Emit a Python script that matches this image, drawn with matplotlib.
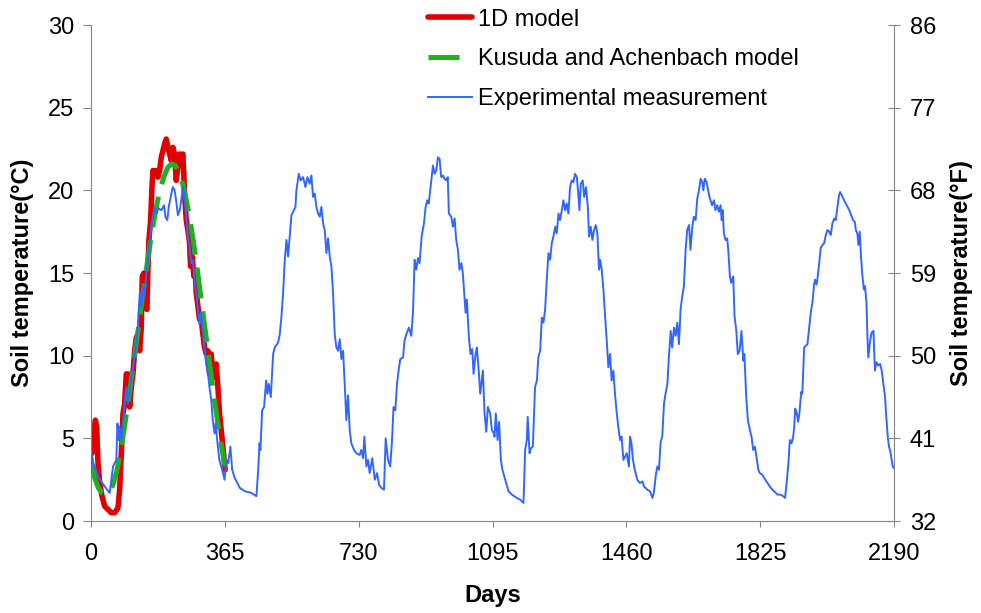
import numpy as np
import matplotlib
matplotlib.use("Agg")
import matplotlib.pyplot as plt

plt.rcParams['font.family'] = ['Liberation Sans', 'DejaVu Sans']
plt.rcParams['font.size'] = 17

exp_days = [0, 3, 6, 10, 19, 37, 51, 60, 69, 72, 75, 78, 83, 90, 96, 101, 108, 114, 119, 126,
            133, 137, 142, 146, 151, 155, 160, 164, 169, 173, 178, 184, 192, 199, 203, 208, 212,
            219, 223, 228, 232, 237, 242, 246, 251, 255, 260, 264, 269, 273, 278, 282, 287, 291,
            296, 300, 305, 310, 314, 319, 323, 328, 332, 337, 340, 344, 350, 360, 364,
            369.5, 374, 380, 385, 392, 406, 419.5, 437.6, 451, 456, 459.4, 462, 466.7, 472, 477.6,
            481.2, 484.9, 490.3, 496.7, 501.2, 510.3, 514.8, 519.4, 523.9, 528.4, 533, 537.5, 542,
            546.6, 551.1, 557.5, 560.2, 566.6, 572, 578.4, 584.7, 590.2, 596.5, 601, 605.6, 610.2,
            614.7, 619.2, 623.8, 628.3, 632.9, 637.4, 642, 646.5, 651, 655.6, 660.1, 664.6, 669.2,
            673.7, 678.3, 682.8, 687.3, 691.9, 696.4, 701, 705.5, 710, 717.3, 723.7, 732.7,
            737, 742, 745.5, 751, 755.5, 760, 767, 774, 780, 785.5, 792, 799, 803.6, 810, 816, 821,
            825, 830, 834.5, 840, 843.6, 851, 855, 860, 867, 873.5, 878, 882.6, 887, 891.7, 896,
            901.7, 908, 912.6, 917, 921, 925, 930, 932.6, 937, 941.6, 946, 950.7, 955, 960, 964,
            969, 973, 976, 982.5, 987, 991.6, 996, 1000.7, 1005, 1010, 1014, 1019, 1021.6, 1025,
            1030.6, 1035, 1039.7, 1043.4, 1048.8, 1052.4, 1058, 1061.5, 1068.8, 1073.3, 1078,
            1082.4, 1088.7, 1093.3, 1098.7,
            1100.5, 1104, 1108.7, 1113, 1117.8, 1122, 1129.6, 1138.7, 1147.7, 1161, 1170, 1179.5,
            1184, 1188.6, 1191, 1196, 1200, 1205, 1211, 1216, 1220, 1225, 1229.5, 1234, 1238.5,
            1243, 1247.6, 1252, 1256.7, 1261, 1266, 1270, 1275, 1279, 1284, 1288.5, 1293, 1297.6,
            1302, 1306.6, 1311, 1315.7, 1320, 1325, 1329, 1332, 1335.7, 1341, 1345, 1350, 1355,
            1358.4, 1363, 1367.5, 1372, 1376.6, 1381, 1385.6, 1388.4, 1393, 1397.5, 1402, 1406.6,
            1411, 1415.6, 1420, 1424.7, 1429, 1434, 1438, 1443, 1447, 1452, 1456.5, 1461,
            1467, 1470, 1474, 1478, 1483, 1490, 1497, 1504, 1508, 1517, 1524.5, 1531, 1535, 1540,
            1544.5, 1549, 1553.6, 1558, 1562.7, 1567, 1572, 1576, 1581, 1585, 1590, 1594.5, 1599,
            1603.5, 1608, 1612.6, 1617, 1621.7, 1626, 1631, 1635, 1640, 1644, 1649, 1653.5, 1658,
            1662.6, 1667, 1670, 1674, 1679, 1683, 1688, 1694, 1699, 1703, 1708, 1712.5, 1717, 1720,
            1723, 1726, 1730.6, 1735, 1738, 1742.5, 1746, 1751.6, 1755, 1760, 1764, 1769, 1774,
            1779, 1782, 1787, 1791.5, 1797, 1801.5, 1806, 1810.6, 1815, 1820, 1824, 1831,
            1836, 1845, 1854, 1863, 1872, 1881, 1888, 1893, 1898, 1902, 1906, 1910.5, 1915, 1918,
            1920.5, 1925, 1928.6, 1932, 1937, 1940, 1945, 1949.5, 1954, 1958.6, 1963, 1968, 1972,
            1975, 1978.6, 1981, 1986, 1990, 1995, 1999.5, 2004, 2008.5, 2013, 2017.6, 2022, 2027,
            2031, 2036, 2040, 2043, 2054, 2068, 2078.5, 2083, 2086, 2090, 2093, 2096.6, 2100, 2104,
            2108, 2111, 2115, 2117.5, 2120, 2125, 2129, 2134, 2138, 2142, 2147.5, 2152, 2156.6,
            2161, 2165.6, 2169, 2173, 2176.5, 2181, 2185.6, 2189]
exp_temp = [3.0, 4.0, 3.5, 3.3, 2.7, 2.1, 1.7, 3.3, 3.7, 5.9, 4.9, 5.7, 4.9, 6.7, 8.1, 7.1, 8.5, 9.1, 10.1, 11.3,
            13.8, 13.0, 14.2, 13.6, 15.0, 15.8, 16.8, 17.8, 18.4, 19.0, 18.6, 18.9, 18.8, 19.1, 18.4, 18.2, 19.0,
            19.8, 20.2, 20.0, 19.4, 18.5, 18.8, 19.4, 20.2, 19.6, 18.4, 17.2, 16.6, 15.6, 15.8, 14.6, 13.8, 13.0,
            11.9, 12.6, 11.5, 10.3, 9.5, 8.9, 8.1, 7.3, 6.1, 5.3, 5.9, 4.9, 3.7, 2.9, 2.5,
            3.7, 3.5, 4.5, 3.1, 2.6, 2.0, 1.8, 1.7, 1.5, 3.1, 4.7, 4.3, 6.7, 6.9, 8.5,
            7.7, 8.3, 7.5, 10.1, 10.5, 10.8, 11.3, 12.4, 13.8, 15.8, 17.0, 16.0, 17.2,
            18.5, 18.7, 19.0, 20.0, 21.0, 20.6, 20.8, 20.2, 20.8, 20.4, 20.9, 19.6, 19.8,
            19.0, 18.6, 18.4, 19.0, 18.0, 17.6, 16.2, 17.1, 16.0, 15.4, 13.8, 11.3, 10.5,
            10.3, 11.0, 9.8, 10.3, 8.3, 6.1, 7.6, 5.5, 4.7, 4.3, 4.1, 4.0,
            4.3, 3.8, 5.1, 3.3, 3.7, 2.9, 3.8, 2.5, 2.9, 2.2, 2.0, 1.9, 5.0, 3.7, 3.3, 4.9,
            6.9, 6.7, 8.3, 9.3, 9.8, 9.9, 10.9, 11.3, 11.7, 11.2, 12.6, 15.8, 15.2, 15.9, 15.6,
            17.2, 18.0, 19.0, 19.4, 19.2, 20.0, 21.0, 21.5, 21.0, 21.2, 22.0, 21.9, 20.8, 20.9, 20.7,
            20.6, 20.8, 18.6, 18.4, 17.8, 18.3, 17.0, 16.4, 15.2, 15.6, 15.0, 13.4, 12.6, 13.4,
            11.1, 10.1, 10.4, 8.9, 10.1, 10.5, 8.9, 7.7, 9.1, 6.5, 5.4,
            6.9, 6.5, 5.5, 5.3,
            5.1, 6.5, 4.9, 6.0, 3.7, 3.1, 2.5, 1.8, 1.6, 1.4, 1.3, 1.1,
            4.3, 4.9, 6.3, 4.1, 4.4, 4.5, 8.1, 8.5, 9.9, 10.3, 12.3, 12.0, 12.8,
            14.6, 16.2, 15.8, 16.8, 17.2, 17.8, 17.4, 18.6, 18.2, 18.8, 19.4, 18.8, 19.2,
            18.6, 20.2, 20.6, 20.5, 21.0, 20.8, 19.8, 18.8, 20.4, 20.6, 19.6, 20.2, 19.0,
            17.2, 17.8, 17.0, 17.6, 17.9, 17.4, 15.2, 15.8, 15.2, 14.0, 12.4, 10.9,
            9.3, 10.1, 8.5, 9.1, 7.7, 6.5, 5.7, 4.9, 5.1, 3.7, 3.9, 4.1,
            3.3, 5.1, 4.7, 3.7, 3.1, 2.5, 2.3, 2.4, 2.1, 1.9, 1.8, 1.4, 1.7, 2.7,
            3.3, 3.1, 4.8, 5.1, 7.1, 7.7, 8.3, 9.9, 11.5, 10.5, 11.7, 11.2, 12.0,
            10.7, 12.8, 13.6, 14.2, 16.4, 17.6, 17.9, 16.4, 17.8, 18.4, 18.2, 19.5, 20.0,
            20.7, 20.5, 20.0, 20.7, 20.5, 20.0, 19.5, 19.1, 19.4, 18.8, 19.1, 18.7, 19.1, 18.2,
            18.8, 17.4, 17.0, 17.1, 16.4, 14.8, 14.4, 14.8, 12.4, 11.5, 10.1, 10.3, 11.5,
            9.7, 10.1, 7.5, 6.1, 5.5, 5.1, 4.3, 4.5, 3.9, 3.1, 2.9, 2.8,
            2.6, 2.3, 2.0, 1.8, 1.6, 1.6, 1.5, 1.4, 2.5, 3.5, 4.9, 4.7, 5.1, 5.7,
            6.8, 6.5, 6.0, 6.5, 7.8, 7.7, 10.5, 10.6, 10.7, 11.7, 12.6, 13.3, 14.3,
            14.6, 14.3, 14.6, 15.6, 16.5, 16.7, 16.8, 17.3, 17.6, 17.5, 17.3, 18.0, 18.3,
            18.2, 19.0, 19.7, 19.9, 19.4, 18.8, 18.2, 18.1, 17.6, 17.4, 16.7, 17.5, 16.0, 14.8,
            14.0, 14.2, 13.2, 11.2, 9.9, 10.9, 11.4, 11.5, 9.1, 9.6, 9.4, 9.5, 9.1,
            8.3, 7.5, 6.3, 5.1, 4.5, 4.1, 3.4, 3.2]

# 1D model, first year
model_days = [2.7, 5.4, 11.8, 15.4, 19, 23.6, 30, 37.2, 46.3, 55.4, 64.5, 73.5, 78.1, 82.6, 87.2,
              91.7, 96.2, 100.8, 105.3, 109.9, 114.4, 118.9, 123.5, 128, 132.6, 137, 139.8, 144.4,
              148, 152.5, 155.3, 158, 162.5, 166.2, 168.9, 173.4, 178, 182.5, 187, 191.6, 196.1,
              200.6, 205.2, 209.7, 214.3, 218.8, 223.3, 227.9, 232.4, 237, 241.5, 246, 250.6,
              255.1, 259.7, 264.2, 268.8, 271.5, 276, 280.6, 284.2, 286.9, 291.5, 296, 300.5,
              305.1, 309.6, 314.2, 318.7, 323.3, 327.8, 332.3, 336.9, 341.4, 346, 350.5, 355,
              359.6, 364.1, 366]
model_temp = [4.1, 4.9, 6.1, 5.7, 3.5, 2.3, 1.5, 0.9, 0.7, 0.5, 0.5, 0.8, 1.9, 4.1, 6.5,
              7.1, 8.9, 8.9, 6.9, 8.1, 8.9, 10.3, 11.1, 11.3, 10.3, 11.7, 14.8, 15.0,
              13.0, 12.8, 15.4, 17.0, 18.2, 20.2, 21.2, 21.0, 21.2, 20.8, 21.2, 22.0, 22.4,
              22.8, 23.1, 22.6, 22.2, 21.8, 22.6, 22.2, 20.6, 21.4, 22.2, 22.0, 22.2,
              19.8, 18.2, 17.6, 16.8, 15.4, 16.0, 14.8, 15.2, 13.8, 13.0, 12.2, 12.2,
              11.3, 10.5, 10.1, 10.3, 8.9, 10.1, 8.9, 8.7, 9.5, 8.1, 6.5, 5.5,
              4.5, 3.5, 3.1]

# Kusuda and Achenbach model, first year
ka_days = [2, 10, 20, 30, 40, 50, 60, 70, 80, 90, 100, 110, 120, 130, 140, 150, 160, 170, 180,
           190, 200, 210, 220, 230, 240, 250, 260, 270, 280, 290, 300, 310, 320, 330, 340, 350,
           360, 366]
ka_temp = [3.4, 2.6, 2.0, 1.7, 1.6, 1.7, 2.2, 3.0, 4.1, 5.5, 7.0, 8.6, 10.2, 11.8, 13.5, 15.1,
           16.6, 18.0, 19.2, 20.2, 20.9, 21.4, 21.6, 21.5, 21.1, 20.4, 19.4, 18.2, 16.8, 15.2,
           13.5, 11.8, 10.1, 8.4, 6.8, 5.3, 4.0, 3.3]

xticks = [0, 365, 730, 1095, 1460, 1825, 2190]
f_ticks = [32, 41, 50, 59, 68, 77, 86]

spine_col = '#868686'

fig = plt.figure(figsize=(9.81, 6.13), dpi=100)
ax = fig.add_axes([0.0928, 0.150, 0.8185, 0.8092])

l1, = ax.plot(model_days, model_temp, color='#e00000', lw=4.0, solid_capstyle='round',
              label='1D model', zorder=2)
l2, = ax.plot(ka_days, ka_temp, color='#22b022', lw=3.6, dashes=(6.2, 2.6),
              label='Kusuda and Achenbach model', zorder=3)
l3, = ax.plot(exp_days, exp_temp, color='#3366ff', lw=1.4,
              label='Experimental measurement', zorder=4)

ax.set_xlim(0, 2190)
ax.set_ylim(0, 30)
ax.set_xticks(xticks)
ax.set_yticks(range(0, 31, 5))
ax.set_xlabel('Days', fontweight='bold', labelpad=14)
ax.set_ylabel('Soil temperature(°C)', fontweight='bold', labelpad=10)
ax.tick_params(axis='y', direction='out', length=6, pad=6, color=spine_col)
ax.tick_params(axis='x', direction='out', length=4.5, pad=11, color=spine_col)
for s in ['top', 'right']:
    ax.spines[s].set_visible(False)
for s in ['left', 'bottom']:
    ax.spines[s].set_color(spine_col)

ax2 = ax.twinx()
ax2.set_ylim(32, 86)
ax2.set_yticks(f_ticks)
ax2.set_ylabel('Soil temperature(°F)', fontweight='bold', rotation=90, labelpad=10)
ax2.tick_params(axis='y', direction='inout', length=9, pad=7, color=spine_col)
for s in ['top', 'left', 'bottom']:
    ax2.spines[s].set_visible(False)
ax2.spines['right'].set_color(spine_col)

fig.legend(handles=[l1, l2, l3], loc='upper left', bbox_to_anchor=(0.436, 0.986),
           frameon=False, borderpad=0, borderaxespad=0, handlelength=1.86,
           handletextpad=0.27, labelspacing=0.75)

fig.savefig('out.png', dpi=100)
